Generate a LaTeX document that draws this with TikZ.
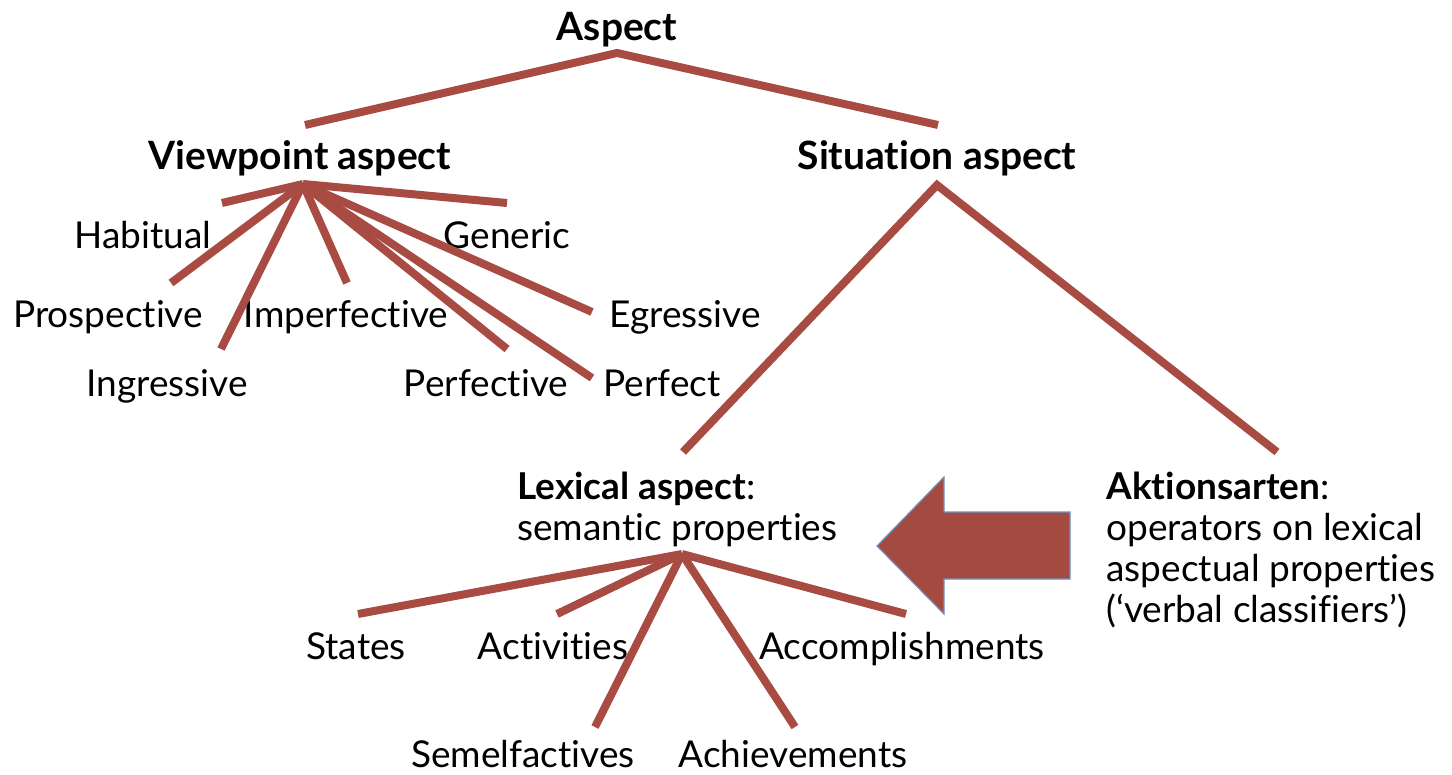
\documentclass[tikz,border=0pt]{standalone}
\usepackage{fontspec}
\setmainfont{Lato}[Ligatures = NoCommon]
\usetikzlibrary{positioning}
\definecolor{branchred}{HTML}{A84B42}
\definecolor{arrowred}{HTML}{A34B41}
\definecolor{arrowedge}{HTML}{7094C0}

\begin{document}
\begin{tikzpicture}
    [
      x = 0.5pt, y = -0.5pt,
      branch/.style = {draw = branchred, line width = 4pt},
      leaf/.style = {inner sep = 0pt, anchor = base, font = \fontsize{18.5}{20.5}\selectfont},
      catname/.style = {leaf, font = \fontsize{19.5}{20.5}\selectfont\bfseries},
      block/.style = {inner sep = 0pt, anchor = north west, align = left, font = \fontsize{18.5}{20.5}\selectfont},
    ]

    \useasboundingbox (0,0) rectangle (1452,775);

    \node[catname] (aspect) at (617,41) {Aspect};
    \node[catname] (viewpoint) at (300,170) {Viewpoint aspect};
    \node[catname] (situation) at (937,170) {Situation aspect};

    \node[leaf] (habitual) at (143,249) {Habitual};
    \node[leaf] (generic) at (507,249) {Generic};
    \node[leaf] (prospective) at (108,328) {Prospective};
    \node[leaf] (imperfective) at (346,328) {Imperfective};
    \node[leaf] (egressive) at (685,328) {Egressive};
    \node[leaf] (ingressive) at (167,396) {Ingressive};
    \node[leaf] (perfective) at (486,396) {Perfective};
    \node[leaf] (perfect) at (662,396) {Perfect};

    \node[block] (lexical) at (517,472) {\textbf{Lexical aspect}:\\semantic properties};
    \node[block] (aktionsarten) at (1106,472) {\textbf{Aktionsarten}:\\operators on lexical\\aspectual properties\\(‘verbal classifiers’)};

    \node[leaf] (states) at (356,659) {States};
    \node[leaf] (activities) at (553,659) {Activities};
    \node[leaf] (accomplishments) at (902,659) {Accomplishments};
    \node[leaf] (semelfactives) at (523,767) {Semelfactives};
    \node[leaf] (achievements) at (793,767) {Achievements};

    \coordinate (aspect-root) at (617,53);
    \coordinate (viewpoint-top) at (305,125);
    \coordinate (situation-top) at (938,125);
    \coordinate (viewpoint-root) at (303,184);
    \coordinate (situation-root) at (937,185);
    \coordinate (lexical-top) at (683,452);
    \coordinate (aktionsarten-top) at (1277,452);
    \coordinate (lexical-root) at (682,554);

    \coordinate (habitual-end) at (222,203);
    \coordinate (generic-end) at (507,203);
    \coordinate (prospective-end) at (171,283);
    \coordinate (imperfective-end) at (347,283);
    \coordinate (egressive-end) at (592,312);
    \coordinate (ingressive-end) at (221,349);
    \coordinate (perfective-end) at (507,349);
    \coordinate (perfect-end) at (592,378);

    \coordinate (states-end) at (358,614);
    \coordinate (activities-end) at (557,614);
    \coordinate (accomplishments-end) at (906,614);
    \coordinate (semelfactives-end) at (595,727);
    \coordinate (achievements-end) at (795,727);

    \draw[branch] (viewpoint-top) -- (aspect-root) -- (situation-top);
    \draw[branch] (lexical-top) -- (situation-root) -- (aktionsarten-top);

    \draw[branch] (viewpoint-root) -- (habitual-end);
    \draw[branch] (viewpoint-root) -- (generic-end);
    \draw[branch] (viewpoint-root) -- (prospective-end);
    \draw[branch] (viewpoint-root) -- (imperfective-end);
    \draw[branch] (viewpoint-root) -- (egressive-end);
    \draw[branch] (viewpoint-root) -- (ingressive-end);
    \draw[branch] (viewpoint-root) -- (perfective-end);
    \draw[branch] (viewpoint-root) -- (perfect-end);

    \draw[branch] (lexical-root) -- (states-end);
    \draw[branch] (lexical-root) -- (activities-end);
    \draw[branch] (lexical-root) -- (accomplishments-end);
    \draw[branch] (lexical-root) -- (semelfactives-end);
    \draw[branch] (lexical-root) -- (achievements-end);

    \draw[fill = arrowred, draw = arrowedge, line width = 0.6pt]
      (877,546) -- (944,477) -- (944,512) -- (1070,512) -- (1070,579)
      -- (944,579) -- (944,614) -- cycle;

  \end{tikzpicture}
\end{document}
